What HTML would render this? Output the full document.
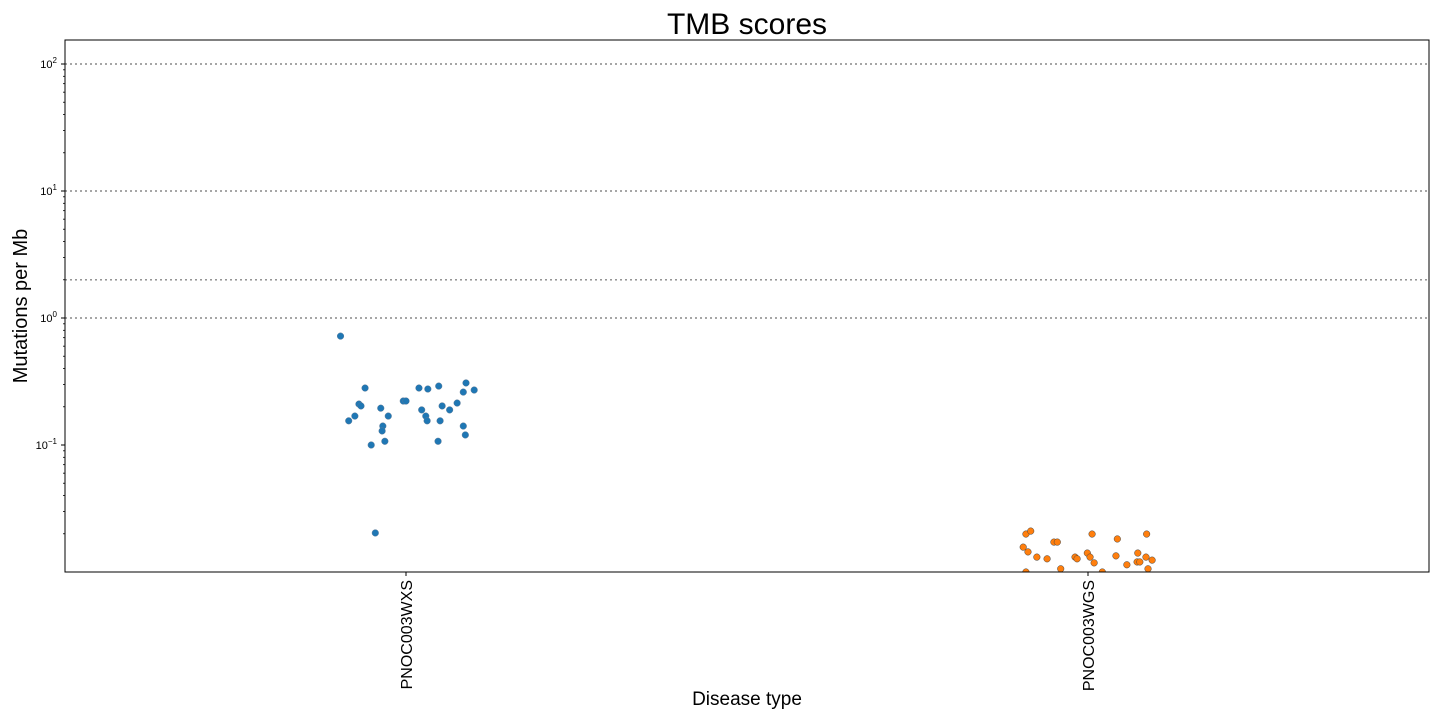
<!DOCTYPE html>
<html><head><meta charset="utf-8"><style>
body{margin:0;background:#fff;font-family:"Liberation Sans","DejaVu Sans",sans-serif;}
</style></head><body>
<svg id="chart" width="1440" height="720" xmlns="http://www.w3.org/2000/svg">
<defs><clipPath id="clip"><rect x="65" y="40" width="1364" height="532"/></clipPath></defs>
<text x="747" y="34" font-size="30" text-anchor="middle">TMB scores</text>
<text transform="translate(27,306) rotate(-90)" font-size="20" text-anchor="middle">Mutations per Mb</text>
<text x="747" y="705" font-size="19" text-anchor="middle">Disease type</text>
<g id="grid"></g><g id="ticks"></g><g id="marks" clip-path="url(#clip)"></g>
<rect x="65" y="40" width="1364" height="532" fill="none" stroke="#000" stroke-width="1"/>
</svg>
<script>
const categories=["PNOC003WXS","PNOC003WGS"];
const colors=["#1f77b4","#ff7f0e"];
const wxsValues=[0.72,0.281,0.210,0.203,0.169,0.155,0.195,0.169,0.141,0.129,0.107,0.100,0.0203,0.222,0.222,0.281,0.276,0.291,0.308,0.261,0.271,0.214,0.203,0.189,0.189,0.169,0.155,0.155,0.141,0.120,0.107];
const wxsJitter=[-0.096,-0.060,-0.069,-0.066,-0.075,-0.084,-0.037,-0.026,-0.034,-0.035,-0.031,-0.051,-0.045,-0.004,0.000,0.019,0.032,0.048,0.088,0.084,0.100,0.075,0.053,0.064,0.023,0.029,0.031,0.050,0.084,0.087,0.047];
const wgsValues=[0.0199,0.0210,0.0157,0.0144,0.0131,0.0127,0.0172,0.0172,0.0106,0.0131,0.0127,0.0199,0.0141,0.0131,0.0118,0.0100,0.0182,0.0134,0.0114,0.0141,0.0120,0.0120,0.0199,0.0131,0.0124,0.0106,0.0100];
const wgsJitter=[-0.091,-0.084,-0.095,-0.088,-0.075,-0.060,-0.050,-0.045,-0.040,-0.019,-0.016,0.006,-0.001,0.003,0.009,0.021,0.043,0.041,0.057,0.073,0.072,0.076,0.086,0.085,0.094,0.088,-0.091];
const gridValues=[100,10,2,1];
const majorTicks=[100,10,1,0.1];
const majorExp=["2","1","0","−1"];
const L=65,R=1429,T=40,B=572;
const yTop=2+24/127,yBot=-2;
function y(v){return B-(Math.log10(v)-yBot)/(yTop-yBot)*(B-T);}
function x(i,j){return 406+(i+j)*682;}
const NS="http://www.w3.org/2000/svg";
function mk(tag,attrs,parent){const e=document.createElementNS(NS,tag);for(const k in attrs)e.setAttribute(k,attrs[k]);parent.appendChild(e);return e;}
const grid=document.getElementById('grid'),ticks=document.getElementById('ticks'),marks=document.getElementById('marks');
gridValues.forEach(v=>{const l=mk('line',{x1:L,x2:R,y1:y(v),y2:y(v),stroke:'#888','stroke-width':1.4,'stroke-dasharray':'2,3'},grid);

});
majorTicks.forEach((v,i)=>{mk('line',{x1:L-4,x2:L,y1:y(v),y2:y(v),stroke:'#000'},ticks);
const t=mk('text',{x:L-8,y:y(v)+4,'font-size':11,'text-anchor':'end'},ticks);


t.innerHTML='10<tspan dy="-5" font-size="8">'+majorExp[i]+'</tspan>';});
for(let d=-2;d<=2;d++)for(let m=2;m<=9;m++){const v=m*Math.pow(10,d);const yy=y(v);if(yy<T||yy>B)continue;mk('line',{x1:L-2,x2:L,y1:yy,y2:yy,stroke:'#000','stroke-width':0.8},ticks);}
categories.forEach((c,i)=>{const xx=x(i,0);mk('line',{x1:xx,x2:xx,y1:B,y2:B+4,stroke:'#000'},ticks);
const t=mk('text',{transform:`translate(${xx+6},${B+8}) rotate(-90)`,'font-size':16,'text-anchor':'end'},ticks);


t.textContent=c;});
[[wxsValues,wxsJitter],[wgsValues,wgsJitter]].forEach(([vals,jit],i)=>{vals.forEach((v,k)=>{
const p=mk('circle',{cx:x(i,jit[k]),cy:y(v),r:3.3,fill:colors[i],stroke:i?'#444':'#5a7a99','stroke-width':0.5},marks);

});});
</script>
</body></html>
